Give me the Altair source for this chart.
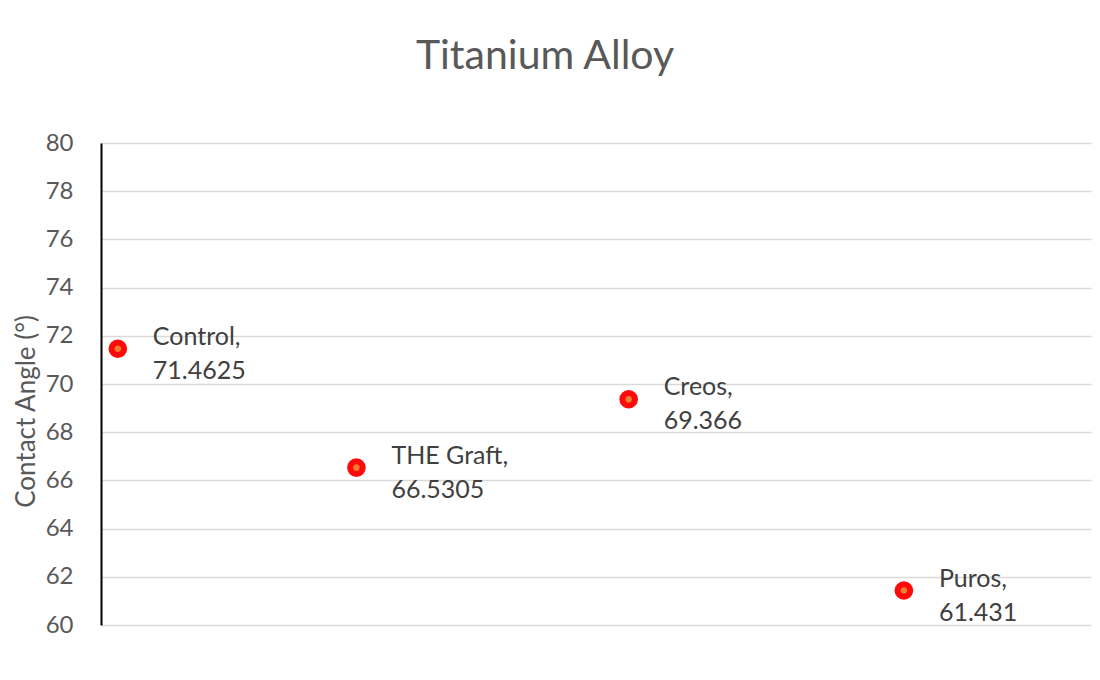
import altair as alt
import pandas as pd

names = ["Control", "THE Graft", "Creos", "Puros"]
angles = [71.4625, 66.5305, 69.366, 61.431]
xpos = [0.017, 0.258, 0.533, 0.811]
value_labels = ["71.4625", "66.5305", "69.366", "61.431"]

df = pd.DataFrame({
    "name": names,
    "angle": angles,
    "x": xpos,
    "label": [f"{n},\n{v}" for n, v in zip(names, value_labels)],
})

FONT = "Lato"

xenc = alt.X("x:Q", scale=alt.Scale(domain=[0, 1]), axis=None)
yenc = alt.Y(
    "angle:Q",
    scale=alt.Scale(domain=[60, 80]),
    axis=alt.Axis(
        title="Contact Angle (°)",
        values=list(range(60, 81, 2)),
        labelOverlap=False,
        ticks=False,
        domain=True,
        domainColor="#000000",
        domainWidth=2,
        grid=True,
        gridColor="#d9d9d9",
        gridWidth=1.5,
        labelFont=FONT,
        labelFontSize=24,
        labelColor="#595959",
        labelPadding=28,
        titleFont=FONT,
        titleFontSize=26,
        titleFontWeight="normal",
        titleColor="#595959",
        titleAngle=-90,
        titleAlign="center",
        titleBaseline="middle",
        titleX=-75,
        titleY=268,
    ),
)

points = alt.Chart(df).mark_point(
    shape="circle", filled=False, fill="#ED7D31", fillOpacity=1,
    stroke="#FF0A0A", strokeWidth=6, size=160, opacity=1,
).encode(x=xenc, y=yenc)

labels = alt.Chart(df).mark_text(
    align="left", baseline="alphabetic", dx=35, dy=-4,
    font=FONT, fontSize=25, color="#404040", lineBreak="\n", lineHeight=34,
).encode(x=xenc, y=yenc, text="label:N")

chart = (points + labels).properties(
    width=990,
    height=482,
    autosize=alt.AutoSizeParams(type="none"),
    padding={"left": 93, "top": 135, "right": 1, "bottom": 40},
    title=alt.TitleParams(
        "Titanium Alloy", font=FONT, fontSize=41, fontWeight="normal",
        color="#595959", anchor="middle", offset=53, dx=-51,
    ),
).configure_view(stroke=None)

chart.save("out.html", embed_options={"renderer": "svg", "actions": False})
